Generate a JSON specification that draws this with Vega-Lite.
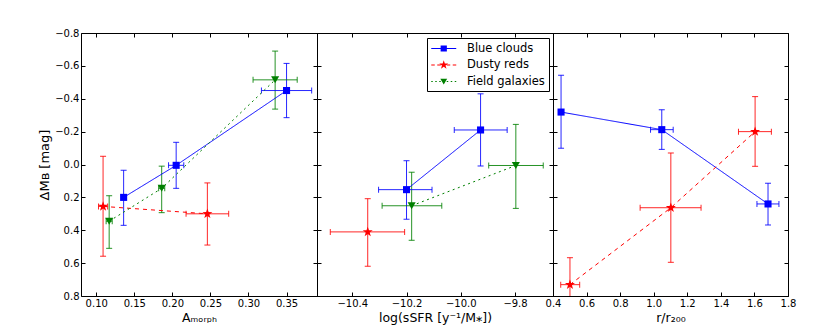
{
  "$schema": "https://vega.github.io/schema/vega-lite/v6.json",
  "background": "white",
  "padding": {"left": 38, "top": 27, "right": 5, "bottom": 3},
  "datasets": {
    "p1": [
      {"s": "Blue clouds", "x": 0.136, "y": 0.20, "xl": 0.134, "xh": 0.138, "yl": 0.035, "yh": 0.37},
      {"s": "Blue clouds", "x": 0.205, "y": 0.005, "xl": 0.195, "xh": 0.215, "yl": -0.135, "yh": 0.145},
      {"s": "Blue clouds", "x": 0.350, "y": -0.45, "xl": 0.317, "xh": 0.383, "yl": -0.615, "yh": -0.285},
      {"s": "Dusty reds", "x": 0.109, "y": 0.255, "xl": 0.103, "xh": 0.115, "yl": -0.05, "yh": 0.558},
      {"s": "Dusty reds", "x": 0.246, "y": 0.30, "xl": 0.218, "xh": 0.274, "yl": 0.112, "yh": 0.49},
      {"s": "Field galaxies", "x": 0.117, "y": 0.345, "xl": 0.113, "xh": 0.121, "yl": 0.19, "yh": 0.51},
      {"s": "Field galaxies", "x": 0.186, "y": 0.145, "xl": 0.182, "xh": 0.19, "yl": 0.01, "yh": 0.293},
      {"s": "Field galaxies", "x": 0.335, "y": -0.515, "xl": 0.306, "xh": 0.364, "yl": -0.69, "yh": -0.337}
    ],
    "p2": [
      {"s": "Blue clouds", "x": -10.2, "y": 0.153, "xl": -10.303, "xh": -10.106, "yl": -0.023, "yh": 0.333},
      {"s": "Blue clouds", "x": -9.927, "y": -0.21, "xl": -10.024, "xh": -9.829, "yl": -0.43, "yh": 0.009},
      {"s": "Dusty reds", "x": -10.343, "y": 0.41, "xl": -10.481, "xh": -10.207, "yl": 0.208, "yh": 0.619},
      {"s": "Field galaxies", "x": -10.181, "y": 0.251, "xl": -10.29, "xh": -10.07, "yl": 0.047, "yh": 0.461},
      {"s": "Field galaxies", "x": -9.797, "y": 0.006, "xl": -9.897, "xh": -9.696, "yl": -0.244, "yh": 0.267}
    ],
    "p3": [
      {"s": "Blue clouds", "x": 0.448, "y": -0.319, "xl": 0.446, "xh": 0.45, "yl": -0.543, "yh": -0.099},
      {"s": "Blue clouds", "x": 1.048, "y": -0.212, "xl": 0.981, "xh": 1.116, "yl": -0.333, "yh": -0.092},
      {"s": "Blue clouds", "x": 1.681, "y": 0.240, "xl": 1.615, "xh": 1.746, "yl": 0.114, "yh": 0.368},
      {"s": "Dusty reds", "x": 0.501, "y": 0.731, "xl": 0.446, "xh": 0.559, "yl": 0.567, "yh": 0.895},
      {"s": "Dusty reds", "x": 1.102, "y": 0.263, "xl": 0.919, "xh": 1.282, "yl": -0.07, "yh": 0.595},
      {"s": "Dusty reds", "x": 1.604, "y": -0.20, "xl": 1.505, "xh": 1.701, "yl": -0.413, "yh": 0.011}
    ]
  },
  "config": {
    "font": "DejaVu Sans",
    "view": {"stroke": "black", "strokeWidth": 1},
    "axis": {
      "domain": false, "grid": false, "ticks": true, "tickSize": -4, "tickColor": "black", "tickWidth": 1,
      "labelColor": "black", "labelFontSize": 10, "labelFont": "DejaVu Sans", "labelPadding": 6,
      "labelFlush": false, "labelOverlap": false,
      "titleFont": "DejaVu Sans", "titleFontSize": 12.5, "titleFontWeight": "normal", "titleColor": "black", "titlePadding": 3
    }
  },
  "bounds": "flush",
  "spacing": 0,
  "resolve": {
    "scale": {"color": "independent", "shape": "independent", "strokeDash": "independent"},
    "legend": {"color": "independent", "shape": "independent", "strokeDash": "independent"}
  },
  "hconcat": [
    {
      "width": 236, "height": 263,
      "data": {"name": "p1"},
      "encoding": {
        "color": {"field": "s", "type": "nominal", "scale": {"domain": ["Blue clouds", "Dusty reds", "Field galaxies"], "range": ["#0000ff", "#ff0000", "#008000"]}, "legend": null}
      },
      "layer": [
        {"mark": {"type": "rule", "clip": true, "strokeWidth": 1, "opacity": 0.85},
         "encoding": {
           "x": {"field": "x", "type": "quantitative", "scale": {"domain": [0.08, 0.39], "nice": false, "zero": false}, "axis": {"orient": "bottom", "values": [0.1, 0.15, 0.2, 0.25, 0.3, 0.35], "format": ".2f", "title": "Aₘₒᵣₚₕ"}},
           "y": {"field": "yl", "type": "quantitative", "scale": {"domain": [-0.8, 0.8], "nice": false, "zero": false, "reverse": true}, "axis": {"orient": "left", "values": [-0.8, -0.6, -0.4, -0.2, 0, 0.2, 0.4, 0.6, 0.8], "format": ".1f", "title": "ΔMʙ [mag]", "titleFontSize": 13}},
           "y2": {"field": "yh"}
         }},
        {"mark": {"type": "rule", "clip": true, "strokeWidth": 1, "opacity": 0.85},
         "encoding": {
           "x": {"field": "xl", "type": "quantitative", "scale": {"domain": [0.08, 0.39], "nice": false, "zero": false}, "axis": {"orient": "top", "values": [0.1, 0.15, 0.2, 0.25, 0.3, 0.35], "labels": false, "title": null}},
           "x2": {"field": "xh"},
           "y": {"field": "y", "type": "quantitative", "scale": {"domain": [-0.8, 0.8], "nice": false, "zero": false, "reverse": true}, "axis": {"orient": "right", "values": [-0.8, -0.6, -0.4, -0.2, 0, 0.2, 0.4, 0.6, 0.8], "labels": false, "title": null}}
         }},
        {"mark": {"type": "tick", "orient": "horizontal", "size": 6, "thickness": 1, "clip": true, "opacity": 0.85},
         "encoding": {
           "x": {"field": "x", "type": "quantitative", "scale": {"domain": [0.08, 0.39], "nice": false, "zero": false}, "axis": null},
           "y": {"field": "yl", "type": "quantitative", "scale": {"domain": [-0.8, 0.8], "nice": false, "zero": false, "reverse": true}, "axis": null}
         }},
        {"mark": {"type": "tick", "orient": "horizontal", "size": 6, "thickness": 1, "clip": true, "opacity": 0.85},
         "encoding": {
           "x": {"field": "x", "type": "quantitative", "scale": {"domain": [0.08, 0.39], "nice": false, "zero": false}, "axis": null},
           "y": {"field": "yh", "type": "quantitative", "scale": {"domain": [-0.8, 0.8], "nice": false, "zero": false, "reverse": true}, "axis": null}
         }},
        {"mark": {"type": "tick", "orient": "vertical", "size": 6, "thickness": 1, "clip": true, "opacity": 0.85},
         "encoding": {
           "x": {"field": "xl", "type": "quantitative", "scale": {"domain": [0.08, 0.39], "nice": false, "zero": false}, "axis": null},
           "y": {"field": "y", "type": "quantitative", "scale": {"domain": [-0.8, 0.8], "nice": false, "zero": false, "reverse": true}, "axis": null}
         }},
        {"mark": {"type": "tick", "orient": "vertical", "size": 6, "thickness": 1, "clip": true, "opacity": 0.85},
         "encoding": {
           "x": {"field": "xh", "type": "quantitative", "scale": {"domain": [0.08, 0.39], "nice": false, "zero": false}, "axis": null},
           "y": {"field": "y", "type": "quantitative", "scale": {"domain": [-0.8, 0.8], "nice": false, "zero": false, "reverse": true}, "axis": null}
         }},
        {"mark": {"type": "line", "strokeWidth": 1, "clip": true},
         "encoding": {
           "x": {"field": "x", "type": "quantitative", "scale": {"domain": [0.08, 0.39], "nice": false, "zero": false}, "axis": null},
           "y": {"field": "y", "type": "quantitative", "scale": {"domain": [-0.8, 0.8], "nice": false, "zero": false, "reverse": true}, "axis": null},
           "strokeDash": {"field": "s", "type": "nominal", "scale": {"domain": ["Blue clouds", "Dusty reds", "Field galaxies"], "range": [[1, 0], [4, 4], [2, 3.5]]}, "legend": null}
         }},
        {"transform": [{"filter": "datum.s === 'Blue clouds'"}],
         "mark": {"type": "point", "filled": true, "opacity": 1, "clip": true, "shape": "square", "size": 50},
         "encoding": {
           "x": {"field": "x", "type": "quantitative", "scale": {"domain": [0.08, 0.39], "nice": false, "zero": false}, "axis": null},
           "y": {"field": "y", "type": "quantitative", "scale": {"domain": [-0.8, 0.8], "nice": false, "zero": false, "reverse": true}, "axis": null}
         }},
        {"transform": [{"filter": "datum.s === 'Dusty reds'"}],
         "mark": {"type": "point", "filled": true, "opacity": 1, "clip": true, "shape": "M0,-1L0.235,-0.324L0.951,-0.309L0.38,0.124L0.588,0.809L0,0.4L-0.588,0.809L-0.38,0.124L-0.951,-0.309L-0.235,-0.324Z", "size": 110},
         "encoding": {
           "x": {"field": "x", "type": "quantitative", "scale": {"domain": [0.08, 0.39], "nice": false, "zero": false}, "axis": null},
           "y": {"field": "y", "type": "quantitative", "scale": {"domain": [-0.8, 0.8], "nice": false, "zero": false, "reverse": true}, "axis": null}
         }},
        {"transform": [{"filter": "datum.s === 'Field galaxies'"}],
         "mark": {"type": "point", "filled": true, "opacity": 1, "clip": true, "shape": "triangle-down", "size": 65},
         "encoding": {
           "x": {"field": "x", "type": "quantitative", "scale": {"domain": [0.08, 0.39], "nice": false, "zero": false}, "axis": null},
           "y": {"field": "y", "type": "quantitative", "scale": {"domain": [-0.8, 0.8], "nice": false, "zero": false, "reverse": true}, "axis": null}
         }}
      ],
      "resolve": {"axis": {"x": "independent", "y": "independent"}}
    },
    {
      "width": 236, "height": 263,
      "data": {"name": "p2"},
      "encoding": {
        "color": {"field": "s", "type": "nominal", "scale": {"domain": ["Blue clouds", "Dusty reds", "Field galaxies"], "range": ["#0000ff", "#ff0000", "#008000"]},
          "legend": {
            "orient": "none", "legendX": 110, "legendY": 5, "title": null,
            "symbolSize": 156, "labelOffset": 23, "padding": 4, "rowPadding": 4.5,
            "labelFontSize": 11.5, "labelFont": "DejaVu Sans", "labelColor": "black",
            "strokeColor": "black", "fillColor": "white", "cornerRadius": 0, "symbolStrokeWidth": 0, "symbolOpacity": 1
          }}
      },
      "layer": [
        {"mark": {"type": "rule", "clip": true, "strokeWidth": 1, "opacity": 0.85},
         "encoding": {
           "x": {"field": "x", "type": "quantitative", "scale": {"domain": [-10.53, -9.66], "nice": false, "zero": false}, "axis": {"orient": "bottom", "values": [-10.4, -10.2, -10.0, -9.8], "format": ".1f", "title": "log(sSFR [y⁻¹/M⁎])"}},
           "y": {"field": "yl", "type": "quantitative", "scale": {"domain": [-0.8, 0.8], "nice": false, "zero": false, "reverse": true}, "axis": {"orient": "left", "values": [-0.8, -0.6, -0.4, -0.2, 0, 0.2, 0.4, 0.6, 0.8], "labels": false, "title": null}},
           "y2": {"field": "yh"}
         }},
        {"mark": {"type": "rule", "clip": true, "strokeWidth": 1, "opacity": 0.85},
         "encoding": {
           "x": {"field": "xl", "type": "quantitative", "scale": {"domain": [-10.53, -9.66], "nice": false, "zero": false}, "axis": {"orient": "top", "values": [-10.4, -10.2, -10.0, -9.8], "labels": false, "title": null}},
           "x2": {"field": "xh"},
           "y": {"field": "y", "type": "quantitative", "scale": {"domain": [-0.8, 0.8], "nice": false, "zero": false, "reverse": true}, "axis": {"orient": "right", "values": [-0.8, -0.6, -0.4, -0.2, 0, 0.2, 0.4, 0.6, 0.8], "labels": false, "title": null}}
         }},
        {"mark": {"type": "tick", "orient": "horizontal", "size": 6, "thickness": 1, "clip": true, "opacity": 0.85},
         "encoding": {
           "x": {"field": "x", "type": "quantitative", "scale": {"domain": [-10.53, -9.66], "nice": false, "zero": false}, "axis": null},
           "y": {"field": "yl", "type": "quantitative", "scale": {"domain": [-0.8, 0.8], "nice": false, "zero": false, "reverse": true}, "axis": null}
         }},
        {"mark": {"type": "tick", "orient": "horizontal", "size": 6, "thickness": 1, "clip": true, "opacity": 0.85},
         "encoding": {
           "x": {"field": "x", "type": "quantitative", "scale": {"domain": [-10.53, -9.66], "nice": false, "zero": false}, "axis": null},
           "y": {"field": "yh", "type": "quantitative", "scale": {"domain": [-0.8, 0.8], "nice": false, "zero": false, "reverse": true}, "axis": null}
         }},
        {"mark": {"type": "tick", "orient": "vertical", "size": 6, "thickness": 1, "clip": true, "opacity": 0.85},
         "encoding": {
           "x": {"field": "xl", "type": "quantitative", "scale": {"domain": [-10.53, -9.66], "nice": false, "zero": false}, "axis": null},
           "y": {"field": "y", "type": "quantitative", "scale": {"domain": [-0.8, 0.8], "nice": false, "zero": false, "reverse": true}, "axis": null}
         }},
        {"mark": {"type": "tick", "orient": "vertical", "size": 6, "thickness": 1, "clip": true, "opacity": 0.85},
         "encoding": {
           "x": {"field": "xh", "type": "quantitative", "scale": {"domain": [-10.53, -9.66], "nice": false, "zero": false}, "axis": null},
           "y": {"field": "y", "type": "quantitative", "scale": {"domain": [-0.8, 0.8], "nice": false, "zero": false, "reverse": true}, "axis": null}
         }},
        {"mark": {"type": "line", "strokeWidth": 1, "clip": true},
         "encoding": {
           "x": {"field": "x", "type": "quantitative", "scale": {"domain": [-10.53, -9.66], "nice": false, "zero": false}, "axis": null},
           "y": {"field": "y", "type": "quantitative", "scale": {"domain": [-0.8, 0.8], "nice": false, "zero": false, "reverse": true}, "axis": null},
           "strokeDash": {"field": "s", "type": "nominal", "scale": {"domain": ["Blue clouds", "Dusty reds", "Field galaxies"], "range": [[1, 0], [4, 4], [2, 3.5]]}, "legend": null}
         }},
        {"transform": [{"filter": "datum.s === 'Blue clouds'"}],
         "mark": {"type": "point", "filled": true, "opacity": 1, "clip": true, "shape": "square", "size": 50},
         "encoding": {
           "x": {"field": "x", "type": "quantitative", "scale": {"domain": [-10.53, -9.66], "nice": false, "zero": false}, "axis": null},
           "y": {"field": "y", "type": "quantitative", "scale": {"domain": [-0.8, 0.8], "nice": false, "zero": false, "reverse": true}, "axis": null}
         }},
        {"transform": [{"filter": "datum.s === 'Dusty reds'"}],
         "mark": {"type": "point", "filled": true, "opacity": 1, "clip": true, "shape": "M0,-1L0.235,-0.324L0.951,-0.309L0.38,0.124L0.588,0.809L0,0.4L-0.588,0.809L-0.38,0.124L-0.951,-0.309L-0.235,-0.324Z", "size": 110},
         "encoding": {
           "x": {"field": "x", "type": "quantitative", "scale": {"domain": [-10.53, -9.66], "nice": false, "zero": false}, "axis": null},
           "y": {"field": "y", "type": "quantitative", "scale": {"domain": [-0.8, 0.8], "nice": false, "zero": false, "reverse": true}, "axis": null}
         }},
        {"transform": [{"filter": "datum.s === 'Field galaxies'"}],
         "mark": {"type": "point", "filled": true, "opacity": 1, "clip": true, "shape": "triangle-down", "size": 65},
         "encoding": {
           "x": {"field": "x", "type": "quantitative", "scale": {"domain": [-10.53, -9.66], "nice": false, "zero": false}, "axis": null},
           "y": {"field": "y", "type": "quantitative", "scale": {"domain": [-0.8, 0.8], "nice": false, "zero": false, "reverse": true}, "axis": null}
         }},
        {"mark": {"type": "point", "filled": true, "opacity": 0, "clip": true},
         "encoding": {
           "x": {"field": "x", "type": "quantitative", "scale": {"domain": [-10.53, -9.66], "nice": false, "zero": false}, "axis": null},
           "y": {"field": "y", "type": "quantitative", "scale": {"domain": [-0.8, 0.8], "nice": false, "zero": false, "reverse": true}, "axis": null},
           "shape": {"field": "s", "type": "nominal", "scale": {"domain": ["Blue clouds", "Dusty reds", "Field galaxies"], "range": [
             "M-1,-0.08H3V0.08H-1ZM0.5,-0.5H1.5V0.5H0.5Z",
             "M-1,-0.08H-0.44V0.08H-1ZM-0.04,-0.08H0.52V0.08H-0.04ZM1.48,-0.08H2.04V0.08H1.48ZM2.44,-0.08H3V0.08H2.44ZM1,-0.75L1.176,-0.243L1.713,-0.232L1.285,0.093L1.441,0.607L1,0.3L0.559,0.607L0.715,0.093L0.287,-0.232L0.824,-0.243Z",
             "M-1,-0.08h0.24v0.16h-0.24ZM-0.36,-0.08h0.24v0.16h-0.24ZM0.28,-0.08h0.24v0.16h-0.24ZM1.48,-0.08h0.24v0.16h-0.24ZM2.12,-0.08h0.24v0.16h-0.24ZM2.76,-0.08h0.24v0.16h-0.24ZM0.45,-0.45L1.55,-0.45L1,0.5Z"
           ]},
           "legend": {
            "orient": "none", "legendX": 110, "legendY": 5, "title": null,
            "symbolSize": 156, "labelOffset": 23, "padding": 4, "rowPadding": 4.5,
            "labelFontSize": 11.5, "labelFont": "DejaVu Sans", "labelColor": "black",
            "strokeColor": "black", "fillColor": "white", "cornerRadius": 0, "symbolStrokeWidth": 0, "symbolOpacity": 1
           }}
         }}
      ],
      "resolve": {"axis": {"x": "independent", "y": "independent"}}
    },
    {
      "width": 235, "height": 263,
      "data": {"name": "p3"},
      "encoding": {
        "color": {"field": "s", "type": "nominal", "scale": {"domain": ["Blue clouds", "Dusty reds", "Field galaxies"], "range": ["#0000ff", "#ff0000", "#008000"]}, "legend": null}
      },
      "layer": [
        {"mark": {"type": "rule", "clip": true, "strokeWidth": 1, "opacity": 0.85},
         "encoding": {
           "x": {"field": "x", "type": "quantitative", "scale": {"domain": [0.4, 1.8], "nice": false, "zero": false}, "axis": {"orient": "bottom", "values": [0.4, 0.6, 0.8, 1.0, 1.2, 1.4, 1.6, 1.8], "format": ".1f", "title": "r/r₂₀₀"}},
           "y": {"field": "yl", "type": "quantitative", "scale": {"domain": [-0.8, 0.8], "nice": false, "zero": false, "reverse": true}, "axis": {"orient": "left", "values": [-0.8, -0.6, -0.4, -0.2, 0, 0.2, 0.4, 0.6, 0.8], "labels": false, "title": null}},
           "y2": {"field": "yh"}
         }},
        {"mark": {"type": "rule", "clip": true, "strokeWidth": 1, "opacity": 0.85},
         "encoding": {
           "x": {"field": "xl", "type": "quantitative", "scale": {"domain": [0.4, 1.8], "nice": false, "zero": false}, "axis": {"orient": "top", "values": [0.4, 0.6, 0.8, 1.0, 1.2, 1.4, 1.6, 1.8], "labels": false, "title": null}},
           "x2": {"field": "xh"},
           "y": {"field": "y", "type": "quantitative", "scale": {"domain": [-0.8, 0.8], "nice": false, "zero": false, "reverse": true}, "axis": {"orient": "right", "values": [-0.8, -0.6, -0.4, -0.2, 0, 0.2, 0.4, 0.6, 0.8], "labels": false, "title": null}}
         }},
        {"mark": {"type": "tick", "orient": "horizontal", "size": 6, "thickness": 1, "clip": true, "opacity": 0.85},
         "encoding": {
           "x": {"field": "x", "type": "quantitative", "scale": {"domain": [0.4, 1.8], "nice": false, "zero": false}, "axis": null},
           "y": {"field": "yl", "type": "quantitative", "scale": {"domain": [-0.8, 0.8], "nice": false, "zero": false, "reverse": true}, "axis": null}
         }},
        {"mark": {"type": "tick", "orient": "horizontal", "size": 6, "thickness": 1, "clip": true, "opacity": 0.85},
         "encoding": {
           "x": {"field": "x", "type": "quantitative", "scale": {"domain": [0.4, 1.8], "nice": false, "zero": false}, "axis": null},
           "y": {"field": "yh", "type": "quantitative", "scale": {"domain": [-0.8, 0.8], "nice": false, "zero": false, "reverse": true}, "axis": null}
         }},
        {"mark": {"type": "tick", "orient": "vertical", "size": 6, "thickness": 1, "clip": true, "opacity": 0.85},
         "encoding": {
           "x": {"field": "xl", "type": "quantitative", "scale": {"domain": [0.4, 1.8], "nice": false, "zero": false}, "axis": null},
           "y": {"field": "y", "type": "quantitative", "scale": {"domain": [-0.8, 0.8], "nice": false, "zero": false, "reverse": true}, "axis": null}
         }},
        {"mark": {"type": "tick", "orient": "vertical", "size": 6, "thickness": 1, "clip": true, "opacity": 0.85},
         "encoding": {
           "x": {"field": "xh", "type": "quantitative", "scale": {"domain": [0.4, 1.8], "nice": false, "zero": false}, "axis": null},
           "y": {"field": "y", "type": "quantitative", "scale": {"domain": [-0.8, 0.8], "nice": false, "zero": false, "reverse": true}, "axis": null}
         }},
        {"mark": {"type": "line", "strokeWidth": 1, "clip": true},
         "encoding": {
           "x": {"field": "x", "type": "quantitative", "scale": {"domain": [0.4, 1.8], "nice": false, "zero": false}, "axis": null},
           "y": {"field": "y", "type": "quantitative", "scale": {"domain": [-0.8, 0.8], "nice": false, "zero": false, "reverse": true}, "axis": null},
           "strokeDash": {"field": "s", "type": "nominal", "scale": {"domain": ["Blue clouds", "Dusty reds", "Field galaxies"], "range": [[1, 0], [4, 4], [2, 3.5]]}, "legend": null}
         }},
        {"transform": [{"filter": "datum.s === 'Blue clouds'"}],
         "mark": {"type": "point", "filled": true, "opacity": 1, "clip": true, "shape": "square", "size": 50},
         "encoding": {
           "x": {"field": "x", "type": "quantitative", "scale": {"domain": [0.4, 1.8], "nice": false, "zero": false}, "axis": null},
           "y": {"field": "y", "type": "quantitative", "scale": {"domain": [-0.8, 0.8], "nice": false, "zero": false, "reverse": true}, "axis": null}
         }},
        {"transform": [{"filter": "datum.s === 'Dusty reds'"}],
         "mark": {"type": "point", "filled": true, "opacity": 1, "clip": true, "shape": "M0,-1L0.235,-0.324L0.951,-0.309L0.38,0.124L0.588,0.809L0,0.4L-0.588,0.809L-0.38,0.124L-0.951,-0.309L-0.235,-0.324Z", "size": 110},
         "encoding": {
           "x": {"field": "x", "type": "quantitative", "scale": {"domain": [0.4, 1.8], "nice": false, "zero": false}, "axis": null},
           "y": {"field": "y", "type": "quantitative", "scale": {"domain": [-0.8, 0.8], "nice": false, "zero": false, "reverse": true}, "axis": null}
         }}
      ],
      "resolve": {"axis": {"x": "independent", "y": "independent"}}
    }
  ]
}
